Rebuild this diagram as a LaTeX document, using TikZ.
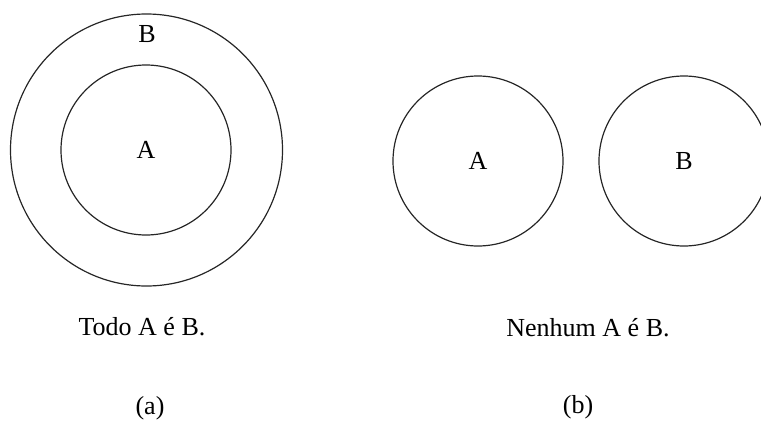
\documentclass[tikz,border=0pt]{standalone}
\usepackage{fontspec}
\setmainfont{Liberation Serif}
\begin{document}
\begin{tikzpicture}[x=1pt,y=-1pt,
  ring/.style={draw=black!85, line width=1.2pt, circle, inner sep=0pt, font=\fontsize{26}{30}\selectfont},
  lbl/.style={inner sep=0pt, font=\fontsize{26}{30}\selectfont},
  captext/.style={inner sep=0pt, font=\fontsize{26}{30}\selectfont}]
\useasboundingbox (0,0) rectangle (761,423);
\clip (0,0) rectangle (761,423);
\node[ring, minimum size=272pt] (outer) at (146.5,150) {};
\node[ring, minimum size=170pt] (inner) at (146,150) {A};
\node[lbl] (bl) at (147,34) {B};
\node[ring, minimum size=170pt] (ca) at (478,161) {A};
\node[ring, minimum size=170pt] (cb) at (684,161) {B};
\node[captext] (t1) at (142,327) {Todo A é B.};
\node[captext] (t2) at (588,328) {Nenhum A é B.};
\node[captext] (la) at (150,408) {(a)};
\node[captext] (lb) at (578,407) {(b)};
\end{tikzpicture}
\end{document}
